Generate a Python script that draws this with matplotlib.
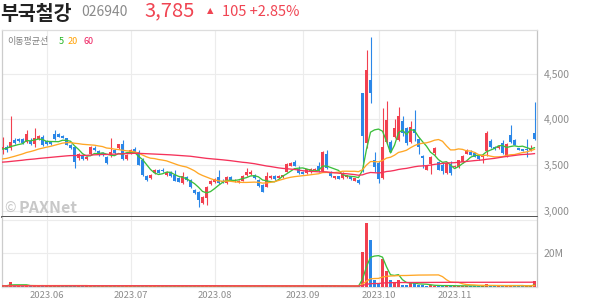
import numpy as np
import matplotlib
matplotlib.use('Agg')
import matplotlib.pyplot as plt

plt.rcParams['font.family'] = ['Noto Sans CJK KR', 'DejaVu Sans']

# ---------------- data ----------------
opens = [3675, 3700, 3685, 3775, 3785, 3780, 3755, 3765, 3725, 3785,
         3810, 3760, 3750, 3835, 3835, 3815, 3790, 3720, 3700, 3575,
         3605, 3570, 3615, 3690, 3655, 3630, 3590, 3610, 3665, 3690,
         3725, 3570, 3630, 3680, 3645, 3560, 3380, 3355, 3415, 3445,
         3450, 3390, 3425, 3390, 3355, 3300, 3370, 3335, 3225, 3205,
         3080, 3135, 3290, 3315, 3370, 3330, 3300, 3370, 3320, 3310,
         3330, 3390, 3400, 3390, 3335, 3280, 3260, 3355, 3380, 3360,
         3365, 3425, 3490, 3535, 3460, 3425, 3410, 3420, 3440, 3490,
         3430, 3615, 3425, 3360, 3375, 3355, 3370, 3375, 3330, 3335,
         4290, 3745, 4430, 3550, 3520, 3355, 3755, 3755, 3810, 3775,
         3985, 3910, 3755, 3890, 3780, 3595, 3445, 3515, 3630, 3535,
         3500, 3410, 3510, 3475, 3480, 3535, 3625, 3645, 3635, 3600,
         3590, 3650, 3765, 3700, 3685, 3745, 3595, 3830, 3775, 3685,
         3675, 3680, 3665, 3850]
highs = [3810, 3715, 4040, 3790, 3795, 3795, 3885, 3790, 3900, 3830,
         3830, 3775, 3760, 3880, 3850, 3825, 3800, 3730, 3710, 3630,
         3615, 3600, 3705, 3710, 3665, 3640, 3600, 3790, 3680, 3735,
         3770, 3615, 3675, 3695, 3660, 3575, 3395, 3400, 3460, 3455,
         3465, 3435, 3435, 3440, 3365, 3420, 3380, 3345, 3235, 3215,
         3160, 3270, 3335, 3355, 3440, 3345, 3385, 3380, 3350, 3340,
         3390, 3465, 3440, 3405, 3345, 3290, 3420, 3390, 3395, 3390,
         3395, 3520, 3535, 3550, 3490, 3435, 3460, 3465, 3470, 3535,
         3650, 3660, 3435, 3380, 3385, 3420, 3395, 3385, 3360, 3345,
         4290, 4760, 4895, 3645, 3540, 4120, 4205, 3770, 4000, 4140,
         4040, 3915, 3985, 4100, 3800, 3610, 3500, 3595, 3700, 3545,
         3530, 3530, 3545, 3495, 3560, 3605, 3675, 3660, 3645, 3610,
         3615, 3870, 3780, 3710, 3715, 3770, 3745, 3935, 3785, 3690,
         3680, 3785, 3720, 4190]
lows = [3615, 3640, 3660, 3725, 3750, 3735, 3740, 3720, 3700, 3770,
        3710, 3720, 3720, 3770, 3805, 3795, 3715, 3680, 3465, 3560,
        3555, 3560, 3610, 3655, 3600, 3600, 3510, 3590, 3620, 3680,
        3560, 3560, 3620, 3630, 3495, 3380, 3330, 3345, 3405, 3410,
        3420, 3380, 3370, 3320, 3310, 3290, 3330, 3245, 3185, 3045,
        3070, 3060, 3280, 3300, 3295, 3300, 3295, 3325, 3310, 3300,
        3320, 3385, 3390, 3350, 3255, 3200, 3255, 3345, 3335, 3350,
        3355, 3420, 3485, 3485, 3400, 3400, 3400, 3410, 3430, 3425,
        3420, 3460, 3370, 3350, 3345, 3345, 3360, 3340, 3320, 3290,
        3420, 3690, 4175, 3425, 3305, 3350, 3730, 3640, 3790, 3760,
        3820, 3720, 3745, 3760, 3620, 3465, 3440, 3400, 3610, 3440,
        3400, 3400, 3395, 3465, 3470, 3525, 3615, 3605, 3585, 3560,
        3520, 3600, 3690, 3665, 3675, 3625, 3590, 3740, 3715, 3660,
        3650, 3590, 3650, 3775]
closes = [3700, 3660, 3755, 3740, 3765, 3745, 3835, 3735, 3790, 3815,
          3720, 3730, 3730, 3785, 3810, 3800, 3720, 3685, 3535, 3615,
          3565, 3590, 3700, 3660, 3605, 3610, 3520, 3645, 3630, 3725,
          3565, 3605, 3665, 3640, 3500, 3390, 3335, 3390, 3450, 3415,
          3430, 3425, 3380, 3330, 3315, 3380, 3340, 3255, 3190, 3120,
          3150, 3260, 3325, 3350, 3300, 3310, 3370, 3335, 3340, 3330,
          3380, 3425, 3425, 3355, 3265, 3210, 3380, 3380, 3345, 3385,
          3390, 3510, 3525, 3490, 3410, 3405, 3455, 3455, 3455, 3430,
          3640, 3465, 3375, 3375, 3350, 3415, 3390, 3350, 3355, 3300,
          3815, 4540, 4285, 3480, 3345, 3700, 3990, 3645, 3900, 4035,
          3845, 3740, 3920, 3845, 3700, 3575, 3490, 3590, 3685, 3450,
          3430, 3525, 3410, 3490, 3555, 3600, 3665, 3610, 3590, 3565,
          3610, 3850, 3700, 3680, 3710, 3630, 3735, 3755, 3720, 3665,
          3655, 3660, 3680, 3785]
volumes_m = [0.5, 0.4, 2.7, 0.9, 0.5, 0.4, 0.6, 0.4, 0.7, 0.4,
             0.5, 0.3, 0.3, 0.4, 0.3, 0.3, 0.4, 0.3, 0.8, 0.4,
             0.3, 0.3, 0.4, 0.3, 0.3, 0.2, 0.4, 0.6, 0.3, 0.3,
             0.5, 0.3, 0.3, 0.3, 0.5, 0.6, 0.4, 0.3, 0.3, 0.2,
             0.2, 0.2, 0.3, 0.3, 0.2, 0.3, 0.2, 0.3, 0.4, 0.5,
             0.4, 0.4, 0.3, 0.2, 0.3, 0.2, 0.2, 0.2, 0.2, 0.2,
             0.2, 0.3, 0.2, 0.2, 0.3, 0.3, 0.3, 0.2, 0.2, 0.2,
             0.2, 0.4, 0.3, 0.3, 0.3, 0.2, 0.2, 0.2, 0.2, 0.4,
             0.8, 0.6, 0.3, 0.2, 0.2, 0.3, 0.2, 0.2, 0.2, 0.2,
             21.0, 38.4, 28.0, 3.9, 1.5, 16.5, 9.3, 4.0, 2.0, 3.9,
             1.2, 1.0, 2.3, 2.2, 1.1, 0.8, 0.5, 0.7, 0.6, 0.5,
             0.4, 0.6, 0.4, 0.3, 0.4, 0.4, 0.5, 0.3, 0.3, 0.3,
             0.3, 1.3, 0.5, 0.3, 0.3, 0.4, 0.9, 1.0, 0.4, 0.3,
             0.2, 0.4, 0.3, 3.3]
prior_closes = [3480, 3495, 3510, 3470, 3455, 3490, 3520, 3540, 3505, 3485,
                3470, 3500, 3525, 3550, 3530, 3515, 3490, 3505, 3535, 3560,
                3545, 3520, 3500, 3480, 3495, 3515, 3540, 3565, 3550, 3530,
                3510, 3495, 3520, 3540, 3525, 3505, 3490, 3515, 3535, 3560,
                3540, 3525, 3510, 3500, 3495, 3515, 3530, 3545, 3520, 3505,
                3530, 3550, 3545, 3560, 3580, 3620, 3655, 3690, 3705]
prior_volumes_m = [0.4, 0.3, 0.5, 0.3, 0.4, 0.3, 0.3, 0.4, 0.5, 0.3,
                   0.3, 0.4, 0.3, 0.3, 0.4, 0.3, 0.5, 0.3, 0.3, 0.4,
                   0.3, 0.3, 0.4, 0.3, 0.3, 0.3, 0.4, 0.3, 0.5, 0.3,
                   0.3, 0.4, 0.3, 0.3, 0.3, 0.4, 0.3, 0.3, 0.4, 0.3,
                   0.3, 0.3, 0.4, 0.3, 0.3, 0.4, 0.3, 0.3, 0.3, 0.4,
                   0.3, 0.3, 0.4, 0.3, 0.3, 0.4, 0.5, 0.4, 0.5]
month_labels = ['2023.06', '2023.07', '2023.08', '2023.09', '2023.10', '2023.11']
month_start_idx = [11, 32, 53, 75, 94, 113]
price_ticks = [3000, 3500, 4000, 4500]
volume_ticks = [20, 40]
ma_periods = [5, 20, 60]

# ---------------- styles ----------------
RED = '#f2404f'
BLUE = '#2b87e8'
MA_COLORS = ['#3cbf3c', '#ffa726', '#f5325a']
GRID = '#ececec'
TXT = '#8c8c8c'
W, H = 594, 304

N = len(closes)
x = np.arange(N)


def moving(prior, vals, n):
    a = np.array(list(prior) + list(vals), float)
    cs = np.cumsum(np.insert(a, 0, 0.0))
    m = (cs[n:] - cs[:-n]) / n
    P = len(prior)
    return m[P - n + 1:P - n + 1 + len(vals)]


fig = plt.figure(figsize=(W / 100, H / 100), dpi=100)


def fx(px):
    return px / W


def fy(py):
    return 1 - py / H


left, right = 2, 537
ax = fig.add_axes([fx(left), fy(217), fx(right - left), (217 - 30) / H])
axv = fig.add_axes([fx(left), fy(287), fx(right - left), (287 - 217) / H])

xlim = (-0.125, 133.625)

# price panel
for i in range(N):
    o, h, l, c = opens[i], highs[i], lows[i], closes[i]
    col = RED if c >= o else BLUE
    ax.vlines(i, l, h, color=col, lw=0.8, zorder=3)
    hgt = max(abs(c - o), 6)
    ax.bar(i, hgt, bottom=min(o, c), width=0.72, color=col, lw=0, zorder=3)

for n, col in zip(ma_periods, MA_COLORS):
    ax.plot(x, moving(prior_closes, closes, n), color=col, lw=0.95, zorder=4)

ax.set_xlim(*xlim)
ax.set_ylim(2931, 4977)
ax.set_yticks(price_ticks)
ax.set_yticklabels([f'{v:,}' for v in price_ticks])
ax.yaxis.tick_right()
ax.tick_params(axis='y', length=0, pad=5, labelsize=7.5, labelcolor=TXT)
ax.set_xticks(month_start_idx)
ax.tick_params(axis='x', length=0, labelbottom=False)
ax.grid(True, color=GRID, lw=0.8, zorder=0)
ax.set_axisbelow(True)
ax.spines['top'].set_color('#dddddd')
ax.spines['left'].set_color('#cccccc')
ax.spines['right'].set_color('#c4c4c4')
ax.spines['bottom'].set_color('#333333')
ax.spines['bottom'].set_linewidth(1.2)
for s in ['top', 'left', 'right']:
    ax.spines[s].set_linewidth(0.9)

# volume panel
prev = [prior_closes[-1]] + closes[:-1]
vcols = [RED if closes[i] >= prev[i] else BLUE for i in range(N)]
axv.bar(x, volumes_m, width=0.72, color=vcols, lw=0, zorder=3)
for n, col in zip(ma_periods, MA_COLORS):
    axv.plot(x, moving(prior_volumes_m, volumes_m, n), color=col, lw=0.95, zorder=4)
axv.set_xlim(*xlim)
axv.set_ylim(-0.3, 41.8)
axv.set_yticks(volume_ticks)
axv.set_yticklabels(['20M', ''])
axv.yaxis.tick_right()
axv.tick_params(axis='y', length=0, pad=5, labelsize=7.5, labelcolor=TXT)
axv.set_xticks(month_start_idx)
axv.set_xticklabels(month_labels)
axv.tick_params(axis='x', length=0, pad=3, labelsize=6.8, labelcolor=TXT)
axv.grid(True, color=GRID, lw=0.8, zorder=0)
axv.set_axisbelow(True)
axv.spines['top'].set_visible(False)
axv.spines['left'].set_color('#cccccc')
axv.spines['right'].set_color('#c4c4c4')
axv.spines['bottom'].set_color('#dddddd')
for s in ['left', 'right', 'bottom']:
    axv.spines[s].set_linewidth(0.9)

# header
fig.text(fx(0), fy(20.5), '부국철강', fontsize=14, fontweight='bold', color='#222222', va='baseline')
fig.text(fx(81), fy(16.5), '026940', fontsize=10, color='#8a8a8a', va='baseline')
fig.text(fx(144), fy(16.7), '3,785', fontsize=14.5, color='#f04452', va='baseline')
fig.text(fx(207), fy(13.5), '▲', fontsize=6, color='#f04452', va='baseline',
         family=['DejaVu Sans'])
fig.text(fx(222), fy(16.5), '105 +2.85%', fontsize=10.5, color='#f04452', va='baseline')

# MA legend
fig.text(fx(7), fy(44), '이동평균선', fontsize=6.5, color='#808080', va='baseline')
fig.text(fx(59), fy(44), '5', fontsize=6.5, color='#22b422', va='baseline')
fig.text(fx(68), fy(44), '20', fontsize=6.5, color='#ffa000', va='baseline')
fig.text(fx(83), fy(44), '60', fontsize=6.5, color='#ee2060', va='baseline')

# watermark
fig.text(fx(4), fy(213), '©', fontsize=10, color='#c8c8c8', va='baseline')
fig.text(fx(19), fy(213), 'PAXNet', fontsize=11.5, fontweight='bold', color='#c8c8c8',
         va='baseline')

fig.savefig('out.png', dpi=100)
